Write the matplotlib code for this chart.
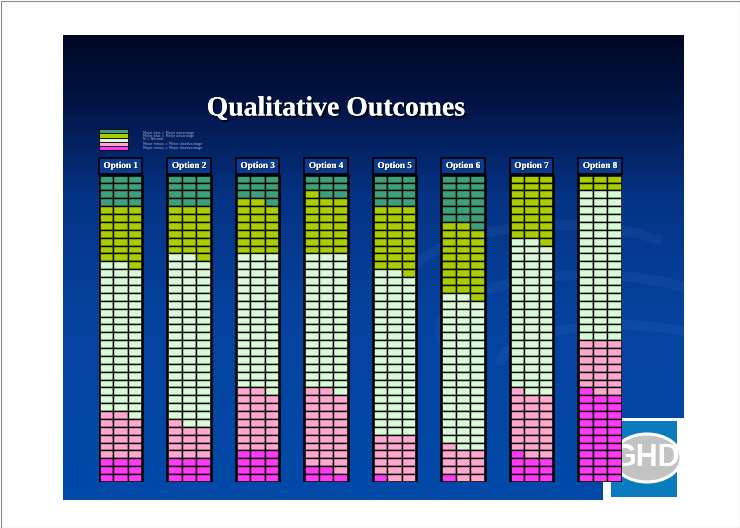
import numpy as np
import matplotlib
matplotlib.use("Agg")
import matplotlib.pyplot as plt
from matplotlib.patches import Rectangle, Ellipse, Arc
import matplotlib.patheffects as pe

# ---------------- data ----------------
options = ["Option 1", "Option 2", "Option 3", "Option 4",
           "Option 5", "Option 6", "Option 7", "Option 8"]
categories = ["Major plus", "Minor plus", "Neutral", "Minor minus", "Major minus"]
legend_labels = ["Major plus = Major advantage",
                 "Minor plus = Minor advantage",
                 "N = Neutral",
                 "Minor minus = Minor disadvantage",
                 "Major minus = Major disadvantage"]
cat_colors = ["#3f9f7a", "#abcc00", "#d8fbd6", "#ffa8cf", "#ff3af5"]

# number of criteria per rating, per option, per sub-column (3 sub-columns)
major_plus  = [[4, 4, 4], [4, 4, 4], [3, 3, 4], [2, 3, 3], [4, 4, 4], [6, 6, 7], [0, 0, 0], [0, 0, 0]]
minor_plus  = [[7, 7, 8], [6, 6, 7], [7, 7, 6], [8, 7, 7], [8, 8, 9], [9, 9, 9], [8, 8, 9], [2, 2, 2]]
neutral     = [[19, 19, 19], [21, 22, 21], [17, 17, 18], [17, 17, 18], [21, 21, 20], [19, 20, 19], [19, 20, 19], [19, 19, 19]]
minor_minus = [[6, 6, 5], [5, 4, 4], [8, 8, 7], [10, 10, 10], [5, 6, 6], [4, 4, 4], [8, 8, 8], [6, 7, 7]]
major_minus = [[3, 3, 3], [3, 3, 3], [4, 4, 4], [2, 2, 1], [1, 0, 0], [1, 0, 0], [4, 3, 3], [12, 11, 11]]

series = [major_plus, minor_plus, neutral, minor_minus, major_minus]
n_rows = sum(s[0][0] for s in series)

# ---------------- figure ----------------
W, H = 740, 528
fig = plt.figure(figsize=(W / 100, H / 100), dpi=100)
fig.patch.set_facecolor("white")

bg = fig.add_axes([0, 0, 1, 1])
bg.set_xlim(0, W)
bg.set_ylim(H, 0)
bg.axis("off")

# slide gradient
t = np.linspace(0, 1, 400)
stops_t = [0.0, 0.15, 0.35, 0.6, 1.0]
stops_c = np.array([[0.00, 0.03, 0.14],
                    [0.01, 0.08, 0.28],
                    [0.02, 0.20, 0.52],
                    [0.02, 0.26, 0.62],
                    [0.01, 0.29, 0.66]])
grad = np.stack([np.interp(t, stops_t, stops_c[:, k]) for k in range(3)], axis=1)
img = np.repeat(grad[:, None, :], 4, axis=1)
bg.imshow(img, extent=(63, 684, 500, 35), aspect="auto", origin="upper", zorder=0)
slide = Rectangle((63, 35), 621, 465, fc="none", ec="none")
bg.add_patch(slide)

# faint decorative swirls, clipped to the slide
for (cx, cy, w_, h_, a1, a2) in [(590, 330, 300, 110, 160, 360),
                                  (620, 365, 240, 80, 180, 380),
                                  (560, 300, 330, 150, 190, 330)]:
    arc = Arc((cx, cy), w_, h_, theta1=a1, theta2=a2,
              color="#5a8ad8", lw=7, alpha=0.10, zorder=1)
    bg.add_patch(arc)
    arc.set_clip_path(slide)

# border of image
bg.add_patch(Rectangle((0.5, 0.5), W - 1, H - 1, fill=False, ec="#8a8a8a", lw=0.8, zorder=2))

# title
bg.text(336, 109, "Qualitative Outcomes", fontsize=20, family="Liberation Serif",
        weight="bold", color="white", ha="center", va="center", zorder=5,
        path_effects=[pe.withSimplePatchShadow(offset=(1.5, -1.5), shadow_rgbFace="black", alpha=0.7),
                      pe.Normal()])

# legend key
sw_x, sw_y, sw_w, sw_h = 99, 129.3, 29, 4.15
bg.text(sw_x + sw_w / 2, sw_y - 2.5, "Key", fontsize=2.6, color="#0a1a40", ha="center", va="center", zorder=5)
text_y = [132.7, 135.6, 138.7, 144.3, 148.0]
for k, (c, lab) in enumerate(zip(cat_colors, legend_labels)):
    bg.add_patch(Rectangle((sw_x, sw_y + k * sw_h), sw_w, sw_h, fc=c, ec="black", lw=0.6, zorder=5))
    bg.text(143, text_y[k], lab, fontsize=2.4, color="#9fb0d8", ha="left", va="center", zorder=5)

# GHD logo
bg.add_patch(Rectangle((603, 418), 81, 82, fc="white", ec="none", zorder=3))
bg.add_patch(Rectangle((610.7, 420.7), 66.6, 76.6, fc="#0a7bbd", ec="none", zorder=3))
bg.add_patch(Ellipse((647, 458), 68, 48, fc="#c3c3c3", ec="white", lw=2.2, zorder=3))
bg.text(646, 458, "GHD", fontsize=22, family="Liberation Sans", weight="bold", color="white",
        ha="center", va="center", zorder=4)

# ---------------- data axes ----------------
px_left, px_right, px_top, px_bot = 99, 621.8, 174.7, 482.0
ax = fig.add_axes([px_left / W, 1 - px_bot / H, (px_right - px_left) / W, (px_bot - px_top) / H])
ax.patch.set_alpha(0)
ax.axis("off")
col_w = 0.635
sub_w = col_w / 3
ax.set_xlim(-col_w / 2, len(options) - 1 + col_w / 2)
ax.set_ylim(n_rows, 0)

for i, name in enumerate(options):
    for j in range(3):
        x = i + (j - 1) * sub_w
        row = 0
        for s, c in zip(series, cat_colors):
            n = s[i][j]
            for r in range(n):
                ax.bar(x, 1, bottom=row + r, width=sub_w, color=c, edgecolor="black",
                       linewidth=1.0, zorder=3)
            row += n
    # outer frame
    ax.bar(i, n_rows, bottom=0, width=col_w, fill=False, edgecolor="black", linewidth=1.8, zorder=4)
    # header box
    ax.bar(i, 2.0, bottom=-2.09, width=col_w, color="#0b3a8e", edgecolor="black",
           linewidth=1.2, clip_on=False, zorder=4)
    ax.text(i, -1.1, name, fontsize=6.6, family="Liberation Serif", weight="bold", color="white",
            ha="center", va="center", clip_on=False, zorder=5,
            path_effects=[pe.withSimplePatchShadow(offset=(0.6, -0.6), shadow_rgbFace="black", alpha=0.7),
                          pe.Normal()])

fig.savefig("out.png", dpi=100)
